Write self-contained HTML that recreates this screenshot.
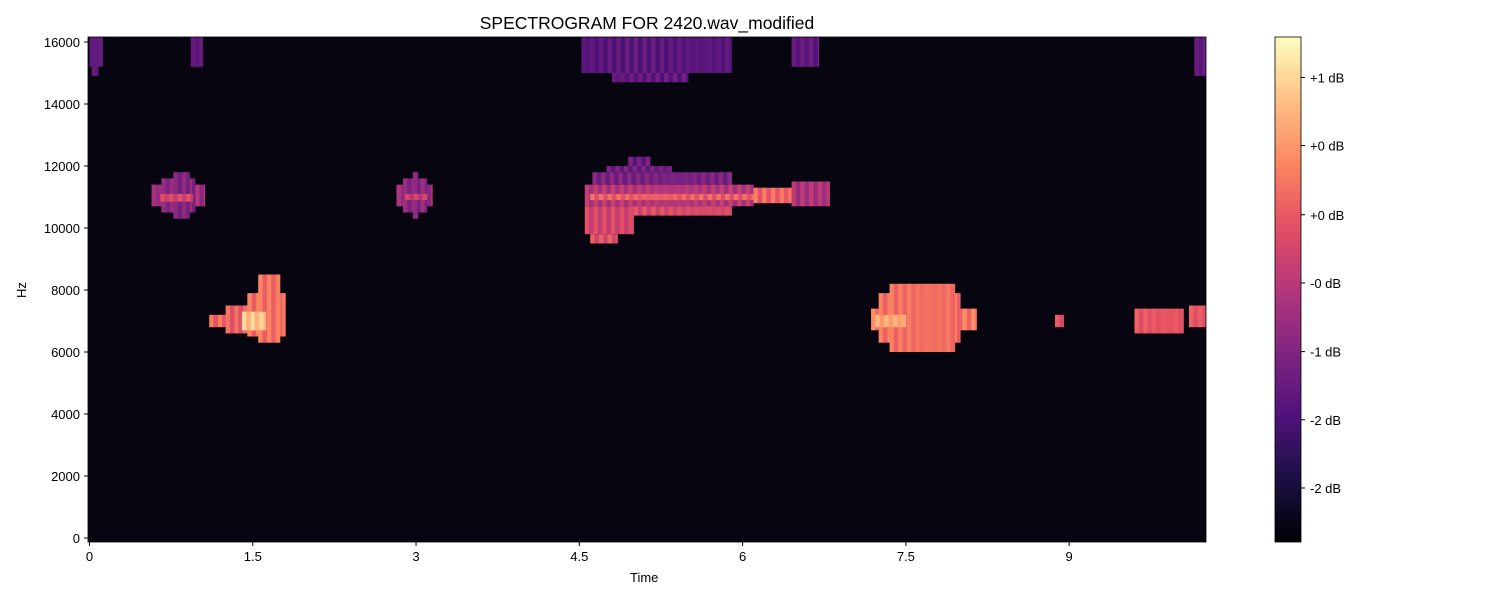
<!DOCTYPE html>
<html><head><meta charset="utf-8"><style>
body{margin:0;background:#fff;font-family:"Liberation Sans",sans-serif;}
svg text{font-family:"Liberation Sans",sans-serif;font-size:13px;fill:#000;}
</style></head><body>
<svg id="c" width="1500" height="600">
<defs><linearGradient id="mg" x1="0" y1="1" x2="0" y2="0">
<stop offset="0" stop-color="#000004"/><stop offset="0.13" stop-color="#1c1044"/><stop offset="0.25" stop-color="#4f127b"/><stop offset="0.38" stop-color="#812581"/><stop offset="0.5" stop-color="#b5367a"/><stop offset="0.63" stop-color="#e55064"/><stop offset="0.75" stop-color="#fb8761"/><stop offset="0.88" stop-color="#fec287"/><stop offset="1" stop-color="#fcfdbf"/></linearGradient>
<clipPath id="cl"><rect x="88" y="37" width="1118" height="505"/></clipPath></defs>
<text x="647" y="29" text-anchor="middle" style="font-size:17.5px">SPECTROGRAM FOR 2420.wav_modified</text>
<rect x="88" y="37" width="1118" height="505" fill="#07050f"/>
<g id="marks" clip-path="url(#cl)"></g>
<g id="axes"></g>
<rect x="1275" y="37" width="26" height="505" fill="url(#mg)" stroke="#000" stroke-width="0.8"/>
<text x="630" y="582">Time</text>
<text x="26" y="290" transform="rotate(-90 26 290)" text-anchor="middle">Hz</text>
</svg>
<script>
const xTicks=[0,1.5,3,4.5,6,7.5,9];
const xTickLabels=["0","1.5","3","4.5","6","7.5","9"];
const yTicks=[0,2000,4000,6000,8000,10000,12000,14000,16000];
const cbTickPos=[0.92,0.785,0.648,0.513,0.377,0.242,0.107];
const cbTickLabels=["+1 dB","+0 dB","+0 dB","-0 dB","-1 dB","-2 dB","-2 dB"];
// segments: [tStart, tEnd, fLow, fHigh, level(0-1)]
const segments=[
[0,0.12,15200,16200,0.3],[0.02,0.08,14900,15200,0.3],[0.93,1.04,15200,16200,0.3],
[4.52,5.9,15000,16200,0.28],[4.8,5.5,14700,15000,0.3],[6.45,6.7,15200,16200,0.3],[10.15,10.28,14900,16200,0.3],
[0.57,1.06,10700,11400,0.45],[0.66,0.97,10500,11600,0.4],[0.77,0.92,10300,11800,0.38],[0.65,0.95,10850,11100,0.58],
[2.82,3.15,10700,11400,0.45],[2.88,3.1,10500,11600,0.4],[2.97,3.02,10300,11800,0.38],[2.9,3.1,10900,11100,0.55],
[4.55,6.1,10700,11400,0.5],[4.62,5.9,11400,11800,0.36],[4.75,5.35,11800,12000,0.33],[4.95,5.15,12000,12300,0.32],
[4.55,5.0,9800,10700,0.58],[4.6,4.85,9500,9800,0.62],[5.0,5.9,10400,10700,0.6],[4.6,6.1,10900,11100,0.66],
[6.1,6.45,10800,11300,0.68],[6.45,6.8,10700,11500,0.48],
[1.1,1.3,6800,7200,0.68],[1.25,1.45,6600,7500,0.66],[1.45,1.8,6500,7900,0.7],[1.55,1.75,6300,8500,0.7],[1.4,1.62,6700,7300,0.88],
[7.18,8.15,6700,7400,0.72],[7.25,8.0,6300,7900,0.7],[7.35,7.95,6000,8200,0.7],[7.22,7.5,6800,7200,0.82],
[8.87,8.95,6800,7200,0.62],[9.6,10.05,6600,7400,0.64],[10.1,10.28,6800,7500,0.64]
];
const X=t=>89.5+t*108.85;
const Y=f=>538-f*0.031;
const stops=[[0,[0,0,4]],[0.13,[28,16,68]],[0.25,[79,18,123]],[0.38,[129,37,129]],[0.5,[181,54,122]],[0.63,[229,80,100]],[0.75,[251,135,97]],[0.88,[254,194,135]],[1,[252,253,191]]];
function cmap(v){v=Math.max(0,Math.min(1,v));for(let i=1;i<stops.length;i++){if(v<=stops[i][0]){const a=stops[i-1],b=stops[i],k=(v-a[0])/(b[0]-a[0]);return 'rgb('+a[1].map((c,j)=>Math.round(c+(b[1][j]-c)*k)).join(',')+')';}}return 'rgb(252,253,191)';}
const NS='http://www.w3.org/2000/svg';
const g=document.getElementById('marks');
segments.forEach((s,si)=>{
  const dt=0.04;
  for(let t=s[0],k=0;t<s[1]-1e-6;t+=dt,k++){
    const t1=Math.min(s[1],t+dt);
    const h=Math.sin((si*37+k*13)*1.7)*0.05;
    const r=document.createElementNS(NS,'rect');
    r.setAttribute('x',X(t));r.setAttribute('width',X(t1)-X(t)+0.3);
    r.setAttribute('y',Y(s[3]));r.setAttribute('height',Y(s[2])-Y(s[3]));
    r.setAttribute('fill',cmap(s[4]+h));
    
    
    g.appendChild(r);
  }
});
const ax=document.getElementById('axes');
function add(tag,attrs,txt){const e=document.createElementNS(NS,tag);for(const k in attrs)e.setAttribute(k,attrs[k]);if(txt!==undefined)e.textContent=txt;ax.appendChild(e);return e;}
add('rect',{x:88,y:37,width:1118,height:505,fill:'none',stroke:'#000','stroke-width':0.8});
xTicks.forEach((t,i)=>{
  const l=add('line',{x1:X(t),x2:X(t),y1:542,y2:546,stroke:'#000'});
  
  
  const tx=add('text',{x:X(t),y:561,'text-anchor':'middle'},xTickLabels[i]);
  
  
});
yTicks.forEach(f=>{
  const l=add('line',{x1:84,x2:88,y1:Y(f),y2:Y(f),stroke:'#000'});
  
  
  const tx=add('text',{x:80,y:Y(f)+5,'text-anchor':'end'},String(f));
  
  
});
cbTickPos.forEach((p,i)=>{
  const y=542-p*505;
  const l=add('line',{x1:1301,x2:1305,y1:y,y2:y,stroke:'#000'});
  
  
  const tx=add('text',{x:1310,y:y+5},cbTickLabels[i]);
  
  
});
</script>
</body></html>
